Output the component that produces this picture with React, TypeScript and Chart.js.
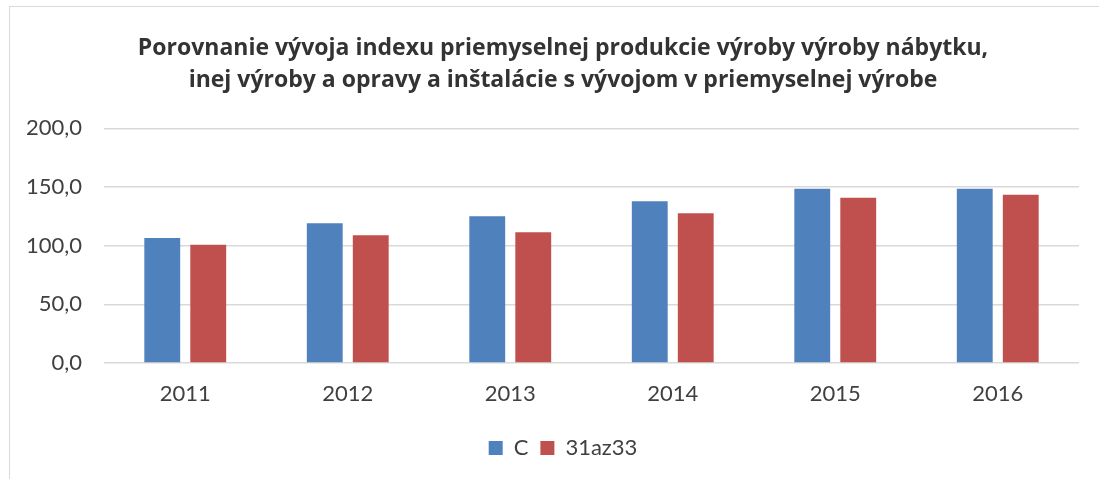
import React, { useEffect, useRef } from "react";
import { Chart, registerables } from "chart.js";

Chart.register(...registerables);

const categories = ["2011", "2012", "2013", "2014", "2015", "2016"];
const seriesC = [106.6, 119.1, 125.1, 137.8, 148.6, 148.6];
const series31az33 = [100.9, 108.9, 111.5, 127.6, 140.9, 143.5];
const titleLines = [
  "Porovnanie vývoja indexu priemyselnej produkcie výroby výroby nábytku,",
  "inej výroby a opravy a inštalácie s vývojom v priemyselnej výrobe",
];

const widenLabelArea = {
  id: "widenLabelArea",
  afterLayout(chart: any) {
    const y = chart.scales.y;
    if (y) y.left = 0;
  },
};

export default function App() {
  const ref = useRef<HTMLCanvasElement | null>(null);
  useEffect(() => {
    if (!ref.current) return;
    const chart = new Chart(ref.current, {
      type: "bar",
      data: {
        labels: categories,
        datasets: [
          { label: "C", data: seriesC, backgroundColor: "#4F81BD" },
          { label: "31az33", data: series31az33, backgroundColor: "#C0504D" },
        ],
      },
      plugins: [widenLabelArea],
      options: {
        animation: false,
        responsive: false,
        maintainAspectRatio: false,
        datasets: {
          bar: { categoryPercentage: 0.566, barPercentage: 0.78 },
        },
        layout: { padding: { left: 47, right: 20, top: 0, bottom: 10 } },
        plugins: {
          tooltip: { enabled: false },
          title: {
            display: true,
            text: titleLines,
            color: "#333333",
            font: { family: "Open Sans", size: 23, weight: "bold", lineHeight: 1.4 },
            padding: { top: 32, bottom: 32 },
          },
          legend: {
            position: "bottom",
            labels: {
              boxWidth: 14,
              boxHeight: 14,
              padding: 12,
              color: "#404040",
              font: { family: "Lato", size: 22 },
            },
          },
        },
        scales: {
          x: {
            grid: { display: false },
            border: { display: false },
            ticks: {
              color: "#404040",
              font: { family: "Lato", size: 22 },
              padding: 10,
            },
            afterFit: (s: any) => {
              s.height = 62;
            },
          },
          y: {
            min: 0,
            max: 200,
            grid: { color: "#d9d9d9", lineWidth: 1.5, drawTicks: false },
            border: { display: false },
            ticks: {
              stepSize: 50,
              color: "#404040",
              font: { family: "Lato", size: 22 },
              padding: 22,
              callback: (v: any) => Number(v).toFixed(1).replace(".", ","),
            },
            afterFit: (s: any) => {
              s.width = 57;
            },
          },
        },
      },
    });
    return () => chart.destroy();
  }, []);
  return (
    <div
      style={{
        position: "fixed",
        left: 0,
        top: 0,
        width: 1099,
        height: 479,
        background: "#ffffff",
        overflow: "hidden",
      }}
    >
      <div
        style={{
          position: "absolute",
          left: 9,
          top: 6,
          width: 1200,
          height: 600,
          border: "1.5px solid #d9d9d9",
        }}
      />
      <canvas
        ref={ref}
        width={1099}
        height={479}
        style={{ position: "absolute", left: 0, top: 0 }}
      />
    </div>
  );
}
